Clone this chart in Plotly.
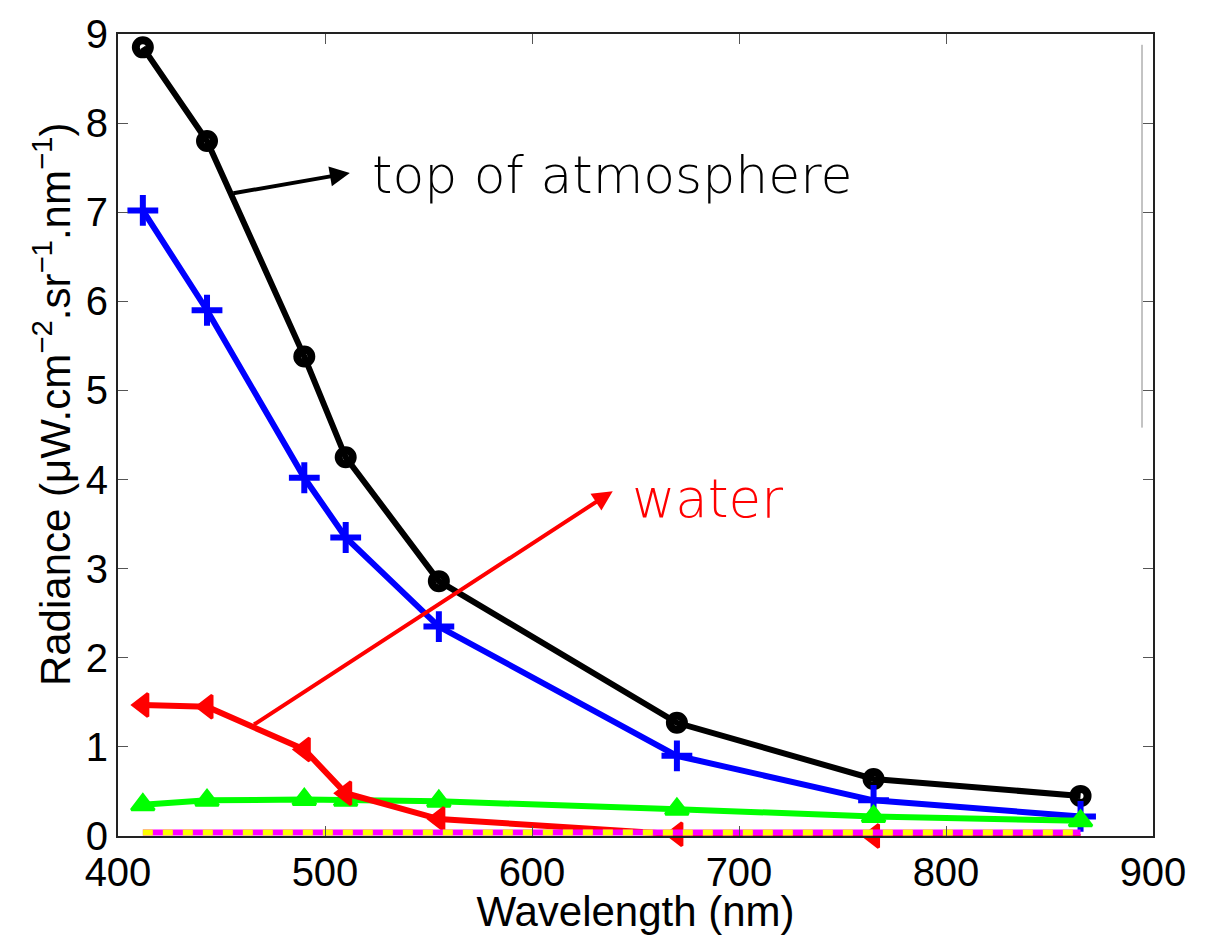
import plotly.graph_objects as go

wavelength = [412, 443, 490, 510, 555, 670, 765, 865]
toa = [8.85, 7.80, 5.38, 4.25, 2.86, 1.27, 0.64, 0.45]
blue_series = [7.02, 5.90, 4.02, 3.35, 2.35, 0.90, 0.40, 0.22]
water = [1.47, 1.45, 0.97, 0.48, 0.19, 0.02, 0.0, -0.01]
green_series = [0.35, 0.40, 0.41, 0.40, 0.39, 0.30, 0.22, 0.17]
flat_series = [0.04, 0.04, 0.04, 0.04, 0.04, 0.04, 0.04, 0.04]

x_ticks = [400, 500, 600, 700, 800, 900]
y_ticks = [0, 1, 2, 3, 4, 5, 6, 7, 8, 9]

fig = go.Figure()

fig.add_trace(go.Scatter(
    x=wavelength, y=toa, mode="lines+markers",
    line=dict(color="black", width=6),
    marker=dict(symbol="circle-open", size=14, color="black", line=dict(width=8, color="black")),
    cliponaxis=False))
fig.add_trace(go.Scatter(
    x=wavelength, y=blue_series, mode="lines+markers",
    line=dict(color="#0000ff", width=6),
    marker=dict(symbol="cross-thin", size=22, color="#0000ff", line=dict(width=6, color="#0000ff")),
    cliponaxis=False))
fig.add_trace(go.Scatter(
    x=wavelength, y=green_series, mode="lines+markers",
    line=dict(color="#00ff00", width=6),
    marker=dict(symbol="triangle-up", size=20, color="#00ff00", line=dict(width=3, color="#00ff00")),
    cliponaxis=False))
fig.add_trace(go.Scatter(
    x=wavelength, y=water, mode="lines+markers",
    line=dict(color="#ff0000", width=6),
    marker=dict(symbol="triangle-left", size=20, color="#ff0000", line=dict(width=3, color="#ff0000")),
    cliponaxis=False))
fig.add_trace(go.Scatter(
    x=wavelength, y=flat_series, mode="lines",
    line=dict(color="#ff00ff", width=6),
    cliponaxis=False))
fig.add_trace(go.Scatter(
    x=wavelength, y=flat_series, mode="lines",
    line=dict(color="#ffff00", width=6, dash="10px,10px"),
    cliponaxis=False))

# annotations
fig.add_annotation(x=512, y=7.44, ax=455, ay=7.21, xref="x", yref="y", axref="x", ayref="y",
                   showarrow=True, arrowhead=2, arrowsize=1, arrowwidth=4, arrowcolor="black", text="")
fig.add_annotation(x=639, y=3.87, ax=465, ay=1.24, xref="x", yref="y", axref="x", ayref="y",
                   showarrow=True, arrowhead=2, arrowsize=1, arrowwidth=4, arrowcolor="#ff0000", text="")
fig.add_annotation(x=370, y=165, xref="paper", yref="paper", text="top of atmosphere", showarrow=False,
                   xanchor="left", yanchor="middle",
                   font=dict(family="DejaVu Sans", size=52, color="black", weight=300))
fig.add_annotation(x=630, y=494, xref="paper", yref="paper", text="water", showarrow=False,
                   xanchor="left", yanchor="middle",
                   font=dict(family="DejaVu Sans", size=53, color="#ff0000", weight=300))
fig.add_annotation(x=52, y=398, xref="paper", yref="paper",
                   text="Radiance (\u03bcW.cm<sup>\u22122</sup>.sr<sup>\u22121</sup>.nm<sup>\u22121</sup>)",
                   showarrow=False, textangle=-90, xanchor="center", yanchor="middle",
                   font=dict(family="Liberation Sans", size=42, color="black"))

fig.update_layout(
    width=1216, height=935,
    margin=dict(l=118, r=63, t=21, b=97),
    paper_bgcolor="white", plot_bgcolor="white",
    showlegend=False,
    font=dict(family="Liberation Sans", color="black"),
    xaxis=dict(range=[400, 900], tickvals=x_ticks, ticks="inside", ticklen=10, tickwidth=1,
               tickcolor="#555555", showline=True, linecolor="#222222", linewidth=2, mirror="ticks",
               showgrid=False, zeroline=False, tickfont=dict(size=40), ticklabeloverflow="allow",
               title=dict(text="Wavelength (nm)", font=dict(size=42), standoff=0)),
    yaxis=dict(range=[0, 9], tickvals=y_ticks, ticks="inside", ticklen=10, tickwidth=1,
               tickcolor="#555555", showline=True, linecolor="#222222", linewidth=2, mirror="ticks",
               showgrid=False, zeroline=False, tickfont=dict(size=40), ticklabeloverflow="allow"),
)

# convert paper-pixel annotation positions to paper fractions
pw = 1216 - 118 - 63
ph = 935 - 21 - 97
for a in fig.layout.annotations:
    if a.xref == "paper":
        a.x = (a.x - 118) / pw
        a.y = 1 - (a.y - 21) / ph

# stray vertical grey line near right edge
fig.add_shape(type="line", xref="paper", yref="paper",
              x0=(1142 - 118) / pw, x1=(1142 - 118) / pw,
              y0=1 - (32 - 21) / ph, y1=1 - (422 - 21) / ph,
              line=dict(color="#888888", width=1))

fig.write_html("out.html")
